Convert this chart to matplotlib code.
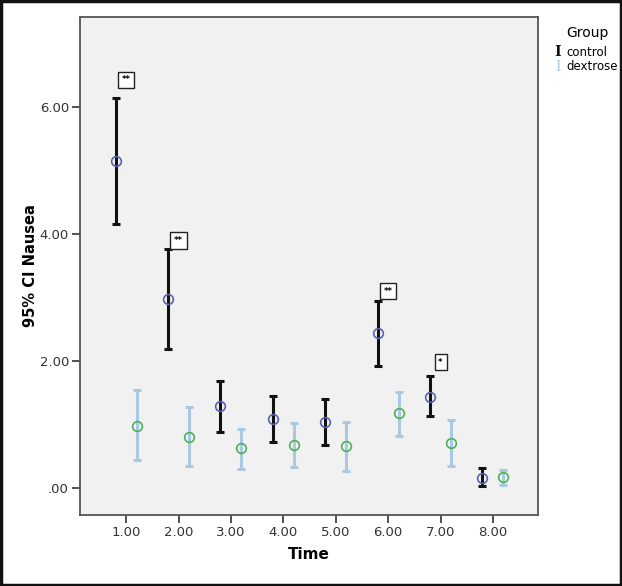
import numpy as np
import matplotlib
matplotlib.use('Agg')
import matplotlib.pyplot as plt
from matplotlib.patches import Rectangle

time = [1, 2, 3, 4, 5, 6, 7, 8]
tick_labels = ['1.00', '2.00', '3.00', '4.00', '5.00', '6.00', '7.00', '8.00']

control_mean = [5.15, 2.98, 1.29, 1.09, 1.04, 2.44, 1.43, 0.16]
control_low = [4.16, 2.19, 0.88, 0.72, 0.68, 1.92, 1.13, 0.02]
control_high = [6.14, 3.76, 1.69, 1.45, 1.40, 2.94, 1.76, 0.31]

dextrose_mean = [0.98, 0.80, 0.62, 0.67, 0.65, 1.17, 0.71, 0.17]
dextrose_low = [0.43, 0.35, 0.30, 0.33, 0.27, 0.82, 0.35, 0.05]
dextrose_high = [1.54, 1.28, 0.93, 1.02, 1.04, 1.51, 1.07, 0.28]

# significance marks: (time, y, label)
sig_x = [1, 2, 6, 7]
sig_y = [6.43, 3.90, 3.10, 1.98]
sig_labels = ['**', '**', '**', '*']

fig = plt.figure(figsize=(6.22, 5.86), dpi=100)
fig.patch.set_facecolor('white')
ax = fig.add_axes([80 / 622, 71 / 586, 458 / 622, 498 / 586])
ax.set_facecolor('#f1f1f1')

t = np.array(time, dtype=float)
cm = np.array(control_mean)
dm = np.array(dextrose_mean)
c_err = [cm - np.array(control_low), np.array(control_high) - cm]
d_err = [dm - np.array(dextrose_low), np.array(dextrose_high) - dm]

ax.errorbar(t - 0.2, cm, yerr=c_err, fmt='none', ecolor='#111111',
            elinewidth=2.2, capsize=3, capthick=2.2, zorder=2)
ax.errorbar(t + 0.2, dm, yerr=d_err, fmt='none', ecolor='#a9c9e2',
            elinewidth=2.2, capsize=3, capthick=2.2, zorder=2)
ax.plot(t - 0.2, cm, 'o', mfc='none', mec='#5b62ad', ms=7, mew=1.2, zorder=3)
ax.plot(t + 0.2, dm, 'o', mfc='none', mec='#4fb05a', ms=7, mew=1.2, zorder=3)

for x, y, s in zip(sig_x, sig_y, sig_labels):
    ax.text(x, y, s, ha='center', va='center', fontsize=6, fontweight='bold',
            bbox=dict(boxstyle='square,pad=0.45', fc='white', ec='#222222', lw=1.0))

ax.set_xlim(0.12, 8.86)
ax.set_ylim(-0.43, 7.42)
ax.set_xticks(time)
ax.set_xticklabels(tick_labels)
ax.set_yticks([0, 2, 4, 6])
ax.set_yticklabels(['.00', '2.00', '4.00', '6.00'])
ax.tick_params(labelsize=9.5, length=6, width=1.2, pad=2, color='#333333', labelcolor='#333333')
for sp in ax.spines.values():
    sp.set_color('#555555')
    sp.set_linewidth(1.3)

ax.set_xlabel('Time', fontsize=11, fontweight='bold', labelpad=6)
ax.set_ylabel('95% CI Nausea', fontsize=10.5, fontweight='bold', labelpad=1)

# legend outside the plot
fig.text(587 / 622, 1 - 33 / 586, 'Group', ha='center', va='center', fontsize=10)
fig.text(558 / 622, 1 - 52 / 586, 'I', ha='center', va='center', fontsize=10,
         fontweight='bold', family='serif', color='#111111')
fig.text(566 / 622, 1 - 52 / 586, 'control', ha='left', va='center', fontsize=8.5)
fig.text(558 / 622, 1 - 67 / 586, 'I', ha='center', va='center', fontsize=10,
         family='serif', color='#a9c9e2')
fig.text(566 / 622, 1 - 67 / 586, 'dextrose', ha='left', va='center', fontsize=8.5)

fig.patches.append(Rectangle((0.002, 0.002), 0.996, 0.996, transform=fig.transFigure,
                             fill=False, ec='#111111', lw=2.5))

fig.savefig('out.png', dpi=100, facecolor='white')
